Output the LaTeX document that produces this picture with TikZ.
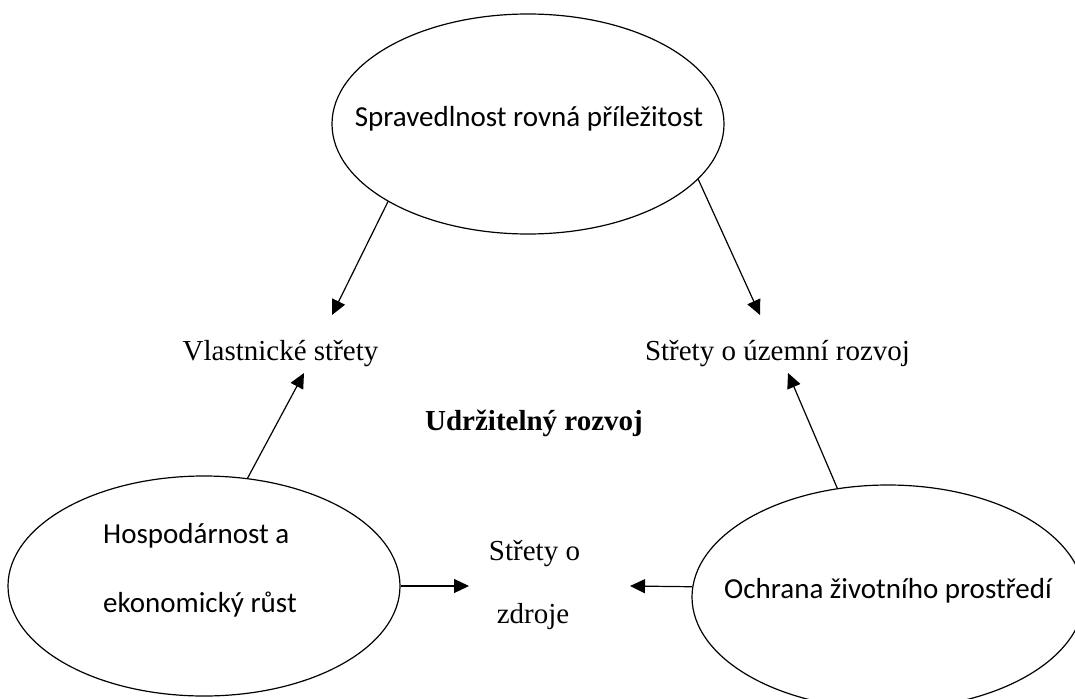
\documentclass[tikz,border=0pt]{standalone}
\usepackage{fontspec}
\setmainfont{Liberation Serif}
\newfontfamily\calfont{Carlito}
\usetikzlibrary{shapes.geometric,arrows.meta}
\begin{document}
\begin{tikzpicture}[x=1pt,y=-1pt,
  ell/.style={draw,ellipse,line width=1.2pt,inner sep=0pt,minimum width=392pt,minimum height=220pt},
  ctext/.style={inner sep=0pt,font=\calfont\fontsize{29}{35}\selectfont},
  ttext/.style={inner sep=0pt,font=\fontsize{29}{35}\selectfont},
  conn/.style={line width=1.2pt,-{Triangle[length=15pt,width=14pt]}}]
\useasboundingbox (0,0) rectangle (1075,698);
\clip (0,0) rectangle (1075,698);
% ellipses
\node[ell] (topE) at (528,124) {};
\node[ell] (leftE) at (204,586) {};
\node[ell,minimum height=224pt] (rightE) at (888,597) {};
% ellipse texts
\node[ctext,anchor=base] (t1) at (529,126) {Spravedlnost rovná příležitost};
\node[ctext,anchor=base west] (t2a) at (103,543) {Hospodárnost a};
\node[ctext,anchor=base west] (t2b) at (103,612) {ekonomický růst};
\node[ctext,anchor=base] (t3) at (888,598) {Ochrana životního prostředí};
% other texts
\node[ttext,anchor=base] (vl) at (280.5,360) {Vlastnické střety};
\node[ttext,anchor=base] (uz) at (777.5,360) {Střety o územní rozvoj};
\node[ttext,anchor=base,font=\bfseries\fontsize{29}{35}\selectfont] (ur) at (534,430) {Udržitelný rozvoj};
\node[ttext,anchor=base] (zd1) at (534.5,560) {Střety o};
\node[ttext,anchor=base] (zd2) at (533,623) {zdroje};
% arrow tips
\coordinate (p1) at (332,315);
\coordinate (p2) at (304,373);
\coordinate (p3) at (760,315);
\coordinate (p4) at (788,373);
\coordinate (p5) at (469,586);
\coordinate (p6) at (630,586);
% connectors
\draw[conn] (topE.209.4) -- (p1);
\draw[conn] (leftE.68.7) -- (p2);
\draw[conn] (topE.342.8) -- (p3);
\draw[conn] (rightE.115.1) -- (p4);
\draw[conn] (leftE.east) -- (p5);
\draw[conn] (rightE.177) -- (p6);
\end{tikzpicture}
\end{document}
